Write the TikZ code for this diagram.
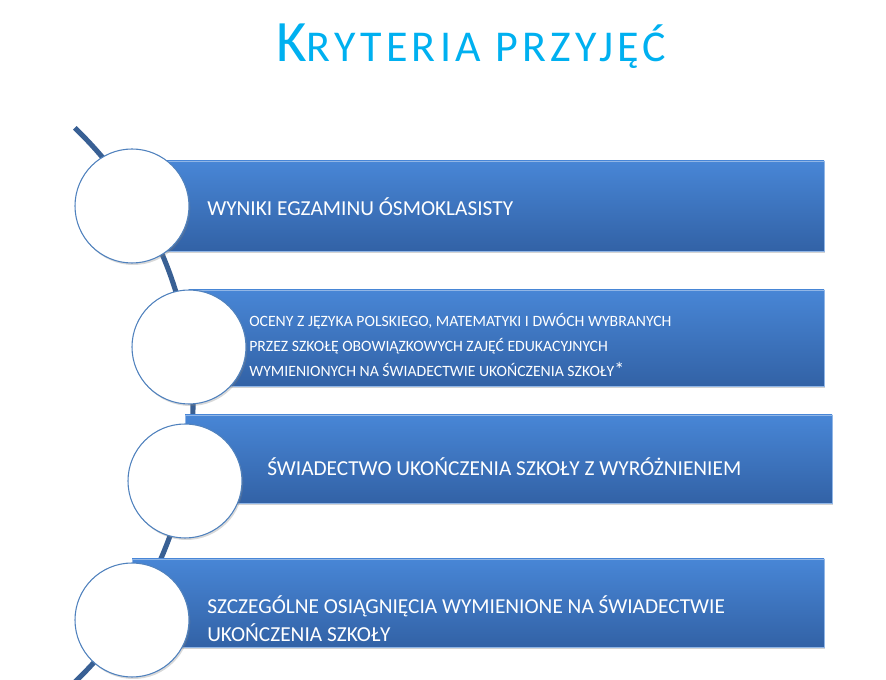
\documentclass[tikz,border=0pt]{standalone}
\usepackage{fontspec}
\setmainfont{Carlito}
\usetikzlibrary{shadows}
\definecolor{titlecyan}{RGB}{0,176,240}
\definecolor{barlight}{RGB}{72,134,214}
\definecolor{bardark}{RGB}{50,98,166}
\definecolor{arcblue}{RGB}{57,96,148}
\definecolor{ringblue}{RGB}{79,129,189}
\begin{document}
\begin{tikzpicture}[x=0.75pt,y=-0.75pt,
    bar/.style={top color=barlight, bottom color=bardark, draw=barlight!60!white, line width=0.5pt,
        drop shadow={opacity=0.35, shadow xshift=1pt, shadow yshift=-1.5pt}},
    disc/.style={circle, fill=white, draw=ringblue, line width=0.8pt, minimum size=85.5pt, inner sep=0pt,
        drop shadow={opacity=0.3, shadow xshift=1pt, shadow yshift=-1.5pt}},
    lbl/.style={anchor=base west, text=white, align=left, inner sep=0pt, font=\fontsize{16}{21}\selectfont},
    smalllbl/.style={lbl, font=\fontsize{11.8}{18.75}\selectfont}]
    \useasboundingbox (0,0) rectangle (886,680);

    \node[anchor=base west, text=titlecyan, inner sep=0pt] (title) at (276,62)
        {\addfontfeatures{LetterSpace=10}\fontsize{44}{44}\selectfont K\fontsize{33}{33}\selectfont RYTERIA PRZYJĘĆ};

    \draw[arcblue, line width=3.8pt] (-191,405) ++(-46.2:384) arc[start angle=-46.2, end angle=50, radius=384];

    \draw[bar] (132,161) rectangle (824,251);
    \draw[bar] (189,290) rectangle (824,386);
    \draw[bar] (185,415) rectangle (832,503);
    \draw[bar] (132,559) rectangle (824,647);

    \node[disc] (c1) at (132,206) {};
    \node[disc] (c2) at (189,347) {};
    \node[disc] (c3) at (185,481) {};
    \node[disc] (c4) at (132,620) {};

    \node[lbl] (t1) at (207,216) {WYNIKI EGZAMINU ÓSMOKLASISTY};
    \node[smalllbl] (t2) at (249,377) {OCENY Z JĘZYKA POLSKIEGO, MATEMATYKI I DWÓCH WYBRANYCH\\
        PRZEZ SZKOŁĘ OBOWIĄZKOWYCH ZAJĘĆ EDUKACYJNYCH\\
        WYMIENIONYCH NA ŚWIADECTWIE UKOŃCZENIA SZKOŁY{\fontsize{15}{15}\selectfont*}};
    \node[lbl] (t3) at (267,476) {ŚWIADECTWO UKOŃCZENIA SZKOŁY Z WYRÓŻNIENIEM};
    \node[lbl] (t4) at (207,642) {SZCZEGÓLNE OSIĄGNIĘCIA WYMIENIONE NA ŚWIADECTWIE\\
        UKOŃCZENIA SZKOŁY};
\end{tikzpicture}
\end{document}
